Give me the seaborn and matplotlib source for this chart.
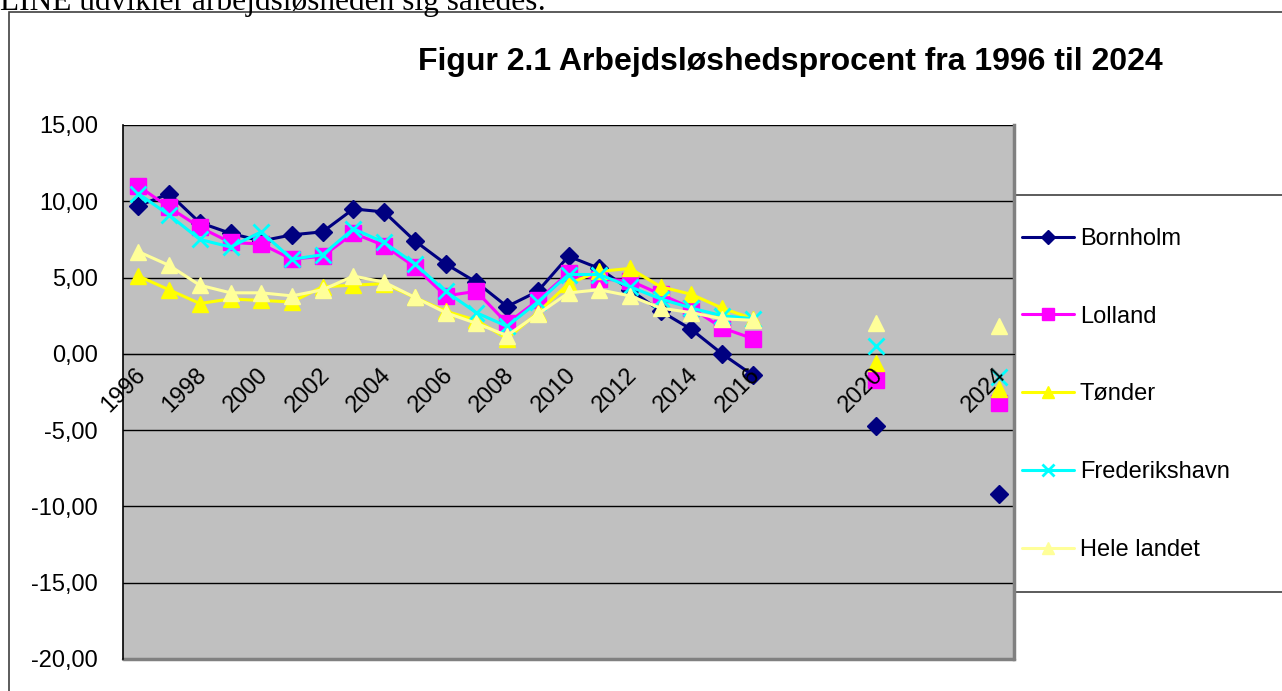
import numpy as np
import pandas as pd
import matplotlib.pyplot as plt
import matplotlib.transforms as mtrans
import seaborn as sns
from matplotlib.patches import Rectangle

# Stil
sns.set_style("white")
plt.rcParams["font.family"] = ["Liberation Sans", "DejaVu Sans"]
plt.rcParams["text.color"] = "black"
plt.rcParams["xtick.color"] = "black"
plt.rcParams["ytick.color"] = "black"

W, H = 1282, 691

# Data -----------------------------------------------------
aar = list(range(1996, 2017)) + [2020, 2024]

bornholm = [9.7, 10.5, 8.6, 7.9, 7.4, 7.8, 8.0, 9.5, 9.3, 7.4, 5.9,
            4.7, 3.1, 4.1, 6.4, 5.6, 4.2, 2.8, 1.6, 0.0, -1.4, -4.7, -9.2]
lolland = [11.0, 9.6, 8.3, 7.3, 7.2, 6.2, 6.4, 7.9, 7.1, 5.7, 3.8,
           4.1, 2.0, 3.5, 5.3, 4.9, 4.8, 3.9, 3.0, 1.7, 1.0, -1.7, -3.2]
tonder = [5.1, 4.2, 3.3, 3.6, 3.5, 3.4, 4.4, 4.5, 4.6, 3.7, 2.8,
          2.2, 1.0, 2.7, 4.6, 5.4, 5.6, 4.4, 3.9, 3.0, 2.3, -0.6, -2.3]
frederikshavn = [10.5, 9.1, 7.5, 7.0, 8.0, 6.2, 6.5, 8.2, 7.3, 5.9, 4.1,
                 2.7, 1.8, 3.4, 5.2, 5.2, 4.4, 3.6, 3.0, 2.5, 2.3, 0.5, -1.5]
hele_landet = [6.7, 5.8, 4.5, 4.0, 4.0, 3.8, 4.2, 5.1, 4.7, 3.7, 2.7,
               2.0, 1.2, 2.6, 4.0, 4.2, 3.8, 3.0, 2.7, 2.3, 2.2, 2.0, 1.8]

x_labels = ["1996", "1998", "2000", "2002", "2004", "2006", "2008",
            "2010", "2012", "2014", "2016", "2020", "2024"]
y_ticks = [-20, -15, -10, -5, 0, 5, 10, 15]
y_labels = ["-20,00", "-15,00", "-10,00", "-5,00", "0,00", "5,00", "10,00", "15,00"]

serier = {
    "Bornholm": bornholm,
    "Lolland": lolland,
    "Tønder": tonder,
    "Frederikshavn": frederikshavn,
    "Hele landet": hele_landet,
}

# farve, markør, størrelse
stil = {
    "Bornholm": ("#000080", "D", 9),
    "Lolland": ("#FF00FF", "s", 11),
    "Tønder": ("#FFFF00", "^", 11),
    "Frederikshavn": ("#00FFFF", "x", 11),
    "Hele landet": ("#FFFF99", "^", 11),
}

# Figur ------------------------------------------------------
fig = plt.figure(figsize=(W / 100, H / 100), dpi=100)
fig.patch.set_facecolor("white")

# ydre ramme
fig.patches.append(Rectangle((9 / W, -0.2), 1.2, 1.2 - 12 / H,
                             transform=fig.transFigure, fill=False,
                             edgecolor="#404040", linewidth=1.2, zorder=-2))

fig.text(0, 1 - 10 / H, "LINE udvikler arbejdsløsheden sig således:",
         family=["Liberation Serif", "DejaVu Serif"], fontsize=22.6,
         va="baseline", ha="left")

fig.text(790 / W, 1 - 62 / H, "Figur 2.1 Arbejdsløshedsprocent fra 1996 til 2024",
         fontsize=23, fontweight="bold", ha="center", va="center")

# forklaringsboks
fig.patches.append(Rectangle((1014 / W, 1 - 592 / H), 0.5, (592 - 195) / H,
                             transform=fig.transFigure, facecolor="white",
                             edgecolor="#404040", linewidth=1.2, zorder=-1))

ax = fig.add_axes([123 / W, 1 - 659 / H, (1014 - 123) / W, (659 - 125) / H])
ax.set_facecolor("#C0C0C0")

for navn, verdier in serier.items():
    farve, markor, ms = stil[navn]
    del1 = pd.DataFrame({"aar": aar[:21], "vaerdi": verdier[:21]})
    del2 = pd.DataFrame({"aar": aar[21:], "vaerdi": verdier[21:]})
    mew = 2 if markor == "x" else 1
    sns.lineplot(data=del1, x="aar", y="vaerdi", ax=ax, color=farve,
                 linewidth=2.2, marker=markor, markersize=ms,
                 markeredgecolor=farve, markeredgewidth=mew,
                 errorbar=None, label=navn, zorder=3)
    sns.lineplot(data=del2, x="aar", y="vaerdi", ax=ax, color=farve,
                 linestyle="none", marker=markor, markersize=ms,
                 markeredgecolor=farve, markeredgewidth=mew,
                 errorbar=None, legend=False, zorder=3)

ax.spines["bottom"].set_position(("data", 0))
ax.spines["bottom"].set_color("black")
ax.spines["left"].set_color("black")
ax.spines["left"].set_linewidth(1.2)
ax.spines["top"].set_visible(False)
ax.spines["right"].set_color("#808080")
ax.spines["right"].set_linewidth(2.5)
ax.plot([0, 1], [0, 0], transform=ax.transAxes, color="#808080",
        linewidth=2.5, clip_on=False)

ax.set_xlim(1995.5, 2024.5)
ax.set_ylim(-20, 15)
ax.set_xlabel("")
ax.set_ylabel("")

ax.set_yticks(y_ticks)
ax.set_yticklabels(y_labels, fontsize=17)
ax.yaxis.grid(True, color="black", linewidth=1)
ax.set_axisbelow(True)

ax.set_xticks([int(t) for t in x_labels])
ax.set_xticklabels(x_labels, fontsize=17, rotation=45, ha="right",
                   rotation_mode="anchor")
ax.set_xticks(np.arange(1995.5, 2025, 1), minor=True)
ax.tick_params(axis="x", which="major", length=0, pad=4)
ax.tick_params(axis="x", which="minor", length=8, width=1, direction="out", color="black")
ax.tick_params(axis="y", length=7, width=1, direction="out", color="black", pad=11)
ax.xaxis.set_zorder(4)

forskyd = mtrans.ScaledTranslation(-0.04, -0.04, fig.dpi_scale_trans)
for lbl in ax.get_xticklabels():
    lbl.set_transform(lbl.get_transform() + forskyd)

h, l = ax.get_legend_handles_labels()
ax.get_legend().remove()
fig.legend(h, l, loc="upper left", bbox_to_anchor=(1022 / W, 1 - 228 / H),
           frameon=False, fontsize=17, borderaxespad=0,
           handlelength=2.2, handletextpad=0.25, labelspacing=2.36,
           borderpad=0, markerscale=0.8)

fig.savefig("out.png", dpi=100)
